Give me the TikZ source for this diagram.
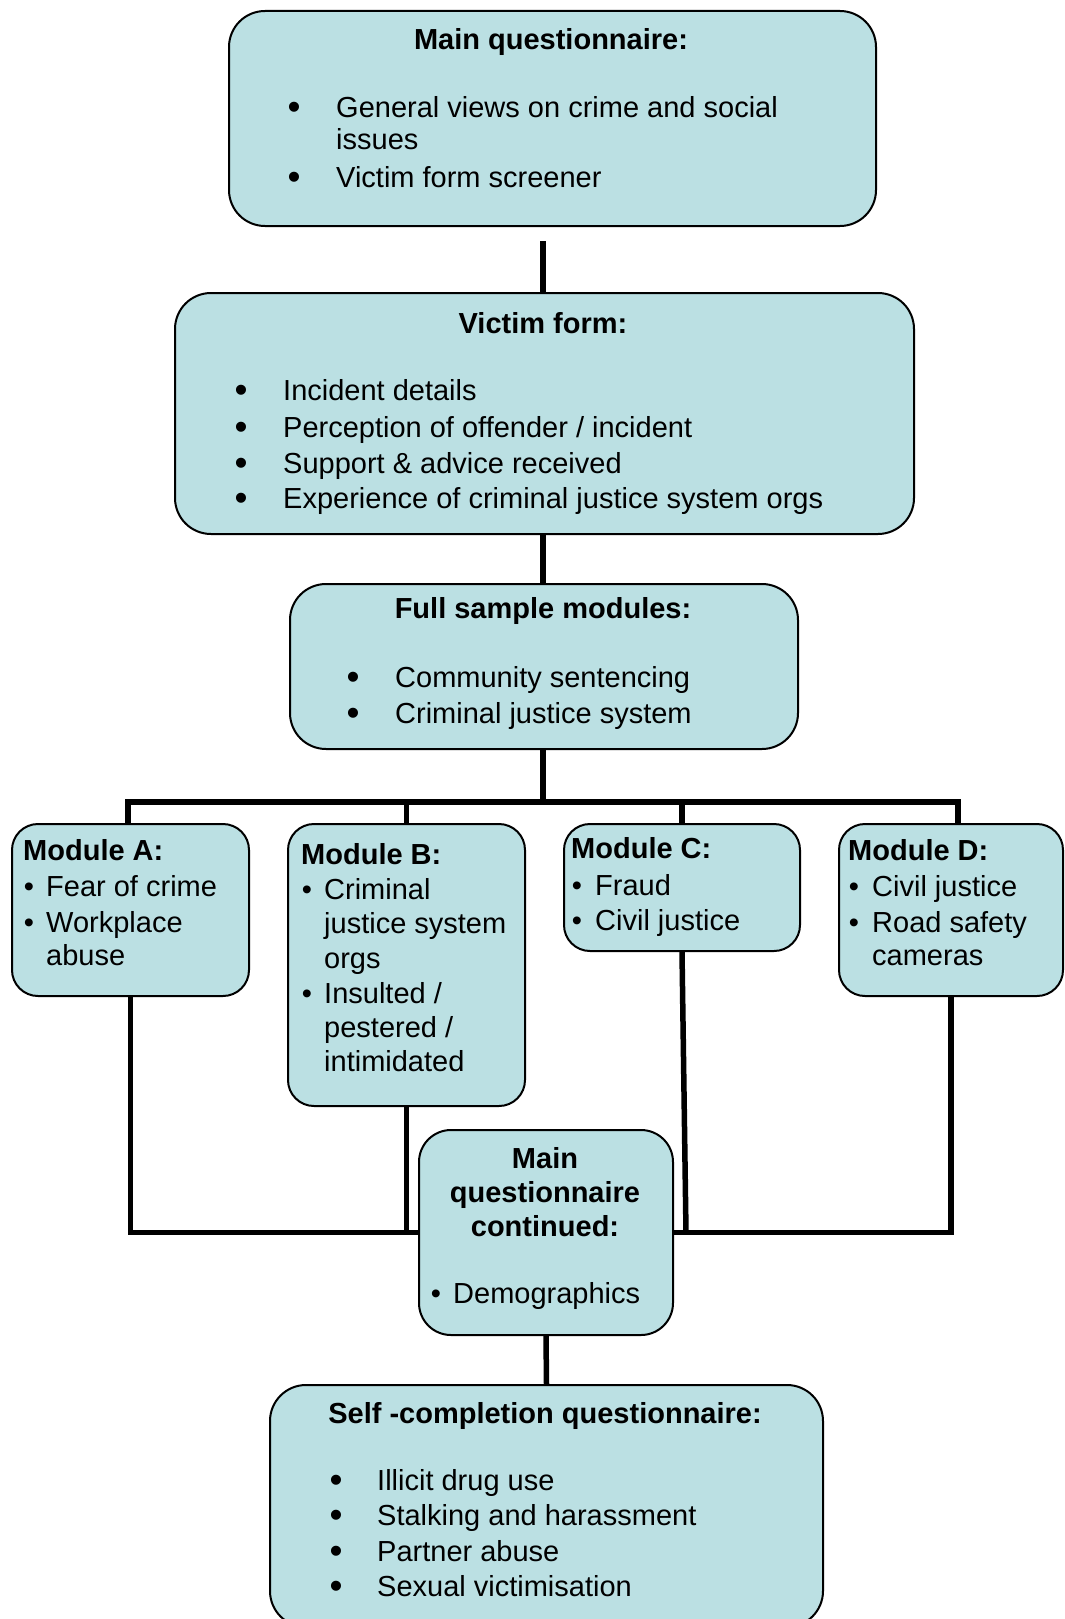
\documentclass[tikz,border=0pt]{standalone}
\usepackage{fontspec}
\setmainfont{Liberation Sans}
\definecolor{boxfill}{RGB}{187,224,227}
\tikzset{
 box/.style={draw=black, line width=2pt, fill=boxfill, rounded corners=36pt, inner sep=0pt, anchor=north west},
 smallbox/.style={box, rounded corners=26pt},
 conn/.style={line width=5.5pt, draw=black},
 txt/.style={inner sep=0pt, anchor=base west, font=\fontsize{29}{35}\selectfont},
 ttl/.style={inner sep=0pt, anchor=base, font=\fontsize{29}{35}\selectfont\bfseries},
 ttlw/.style={ttl, anchor=base west},
 bul/.style={inner sep=0pt, anchor=base, font=\fontsize{29}{35}\selectfont},
 bigbul/.style={inner sep=0pt, anchor=base, font=\fontsize{37}{35}\selectfont, yshift=-2pt},
}
\begin{document}
\begin{tikzpicture}[x=1pt,y=-1pt]
\useasboundingbox (0,0) rectangle (1065,1619);
% boxes
\node[box, minimum width=647pt, minimum height=215pt] (m1) at (228,10) {};
\node[box, minimum width=739pt, minimum height=241pt] (vf) at (174,292) {};
\node[box, minimum width=508pt, minimum height=165pt] (fs) at (289,583) {};
\node[smallbox, minimum width=237pt, minimum height=172pt] (mA) at (11,823) {};
\node[smallbox, minimum width=237pt, minimum height=282pt] (mB) at (287,823) {};
\node[smallbox, minimum width=236pt, minimum height=127pt] (mC) at (563,823) {};
\node[smallbox, minimum width=224pt, minimum height=172pt] (mD) at (838,823) {};
\node[box, rounded corners=32pt, minimum width=254pt, minimum height=205pt] (mc) at (418,1129) {};
\node[box, minimum width=553pt, minimum height=242pt] (sc) at (269,1384) {};
% connectors
\coordinate (c1) at (543,241);
\coordinate (bus) at (543,802);
\coordinate (busL) at (128,802);
\coordinate (busR) at (958,802);
\draw[conn] (c1) -- (c1 |- vf.north);
\draw[conn] (vf.south -| c1) -- (fs.north -| c1);
\draw[conn] (fs.south -| bus) -- (bus);
\draw[conn, line cap=rect] (busL) -- (busR);
\draw[conn] (busL) -- (busL |- mA.north);
\draw[conn] (mB.north |- bus) -- (mB.north);
\draw[conn] (mC.north |- bus) -- (mC.north);
\draw[conn] (busR) -- (busR |- mD.north);
\draw[conn] (mA.south) |- (mc.west);
\draw[conn] (mB.south) -- (mB.south |- mc.west);
\draw[conn] (mC.south) -- ([xshift=12pt]mc.east);
\draw[conn] (mD.south) |- (mc.east);
\draw[conn] (mc.south) -- (sc.north);
% Main questionnaire
\node[ttl] (t1) at (551,49) {Main questionnaire:};
\node[bigbul] (b11) at (294,117) {•};
\node[txt] (i11) at (336,117) {General views on crime and social};
\node[txt] (i11b) at (336,149) {issues};
\node[bigbul] (b12) at (294,187) {•};
\node[txt] (i12) at (336,187) {Victim form screener};
% Victim form
\node[ttl] (t2) at (543,333) {Victim form:};
\node[bigbul] (b21) at (241,400) {•};
\node[txt] (i21) at (283,400) {Incident details};
\node[bigbul] (b22) at (241,437) {•};
\node[txt] (i22) at (283,437) {Perception of offender / incident};
\node[bigbul] (b23) at (241,473) {•};
\node[txt] (i23) at (283,473) {Support \& advice received};
\node[bigbul] (b24) at (241,508) {•};
\node[txt] (i24) at (283,508) {Experience of criminal justice system orgs};
% Full sample modules
\node[ttl] (t3) at (543,618) {Full sample modules:};
\node[bigbul] (b31) at (353,687) {•};
\node[txt] (i31) at (395,687) {Community sentencing};
\node[bigbul] (b32) at (353,723) {•};
\node[txt] (i32) at (395,723) {Criminal justice system};
% Module A
\node[ttlw] (tA) at (23,860) {Module A:};
\node[bul] (bA1) at (29,896) {•};
\node[txt] (iA1) at (46,896) {Fear of crime};
\node[bul] (bA2) at (29,932) {•};
\node[txt] (iA2) at (46,932) {Workplace};
\node[txt] (iA2b) at (46,965) {abuse};
% Module B
\node[ttlw] (tB) at (301,864) {Module B:};
\node[bul] (bB1) at (307,899) {•};
\node[txt] (iB1) at (324,899) {Criminal};
\node[txt] (iB1b) at (324,933) {justice system};
\node[txt] (iB1c) at (324,968) {orgs};
\node[bul] (bB2) at (307,1003) {•};
\node[txt] (iB2) at (324,1003) {Insulted /};
\node[txt] (iB2b) at (324,1037) {pestered /};
\node[txt] (iB2c) at (324,1071) {intimidated};
% Module C
\node[ttlw] (tC) at (571,858) {Module C:};
\node[bul] (bC1) at (577,895) {•};
\node[txt] (iC1) at (595,895) {Fraud};
\node[bul] (bC2) at (577,930) {•};
\node[txt] (iC2) at (595,930) {Civil justice};
% Module D
\node[ttlw] (tD) at (848,860) {Module D:};
\node[bul] (bD1) at (854,896) {•};
\node[txt] (iD1) at (872,896) {Civil justice};
\node[bul] (bD2) at (854,932) {•};
\node[txt] (iD2) at (872,932) {Road safety};
\node[txt] (iD2b) at (872,965) {cameras};
% Main questionnaire continued
\node[ttl] (t4a) at (545,1168) {Main};
\node[ttl] (t4b) at (545,1202) {questionnaire};
\node[ttl] (t4c) at (545,1236) {continued:};
\node[bul] (b41) at (436,1303) {•};
\node[txt] (i41) at (453,1303) {Demographics};
% Self-completion
\node[ttl] (t5) at (545,1423) {Self -completion questionnaire:};
\node[bigbul] (b51) at (336,1490) {•};
\node[txt] (i51) at (377,1490) {Illicit drug use};
\node[bigbul] (b52) at (336,1525) {•};
\node[txt] (i52) at (377,1525) {Stalking and harassment};
\node[bigbul] (b53) at (336,1561) {•};
\node[txt] (i53) at (377,1561) {Partner abuse};
\node[bigbul] (b54) at (336,1596) {•};
\node[txt] (i54) at (377,1596) {Sexual victimisation};
\end{tikzpicture}
\end{document}
